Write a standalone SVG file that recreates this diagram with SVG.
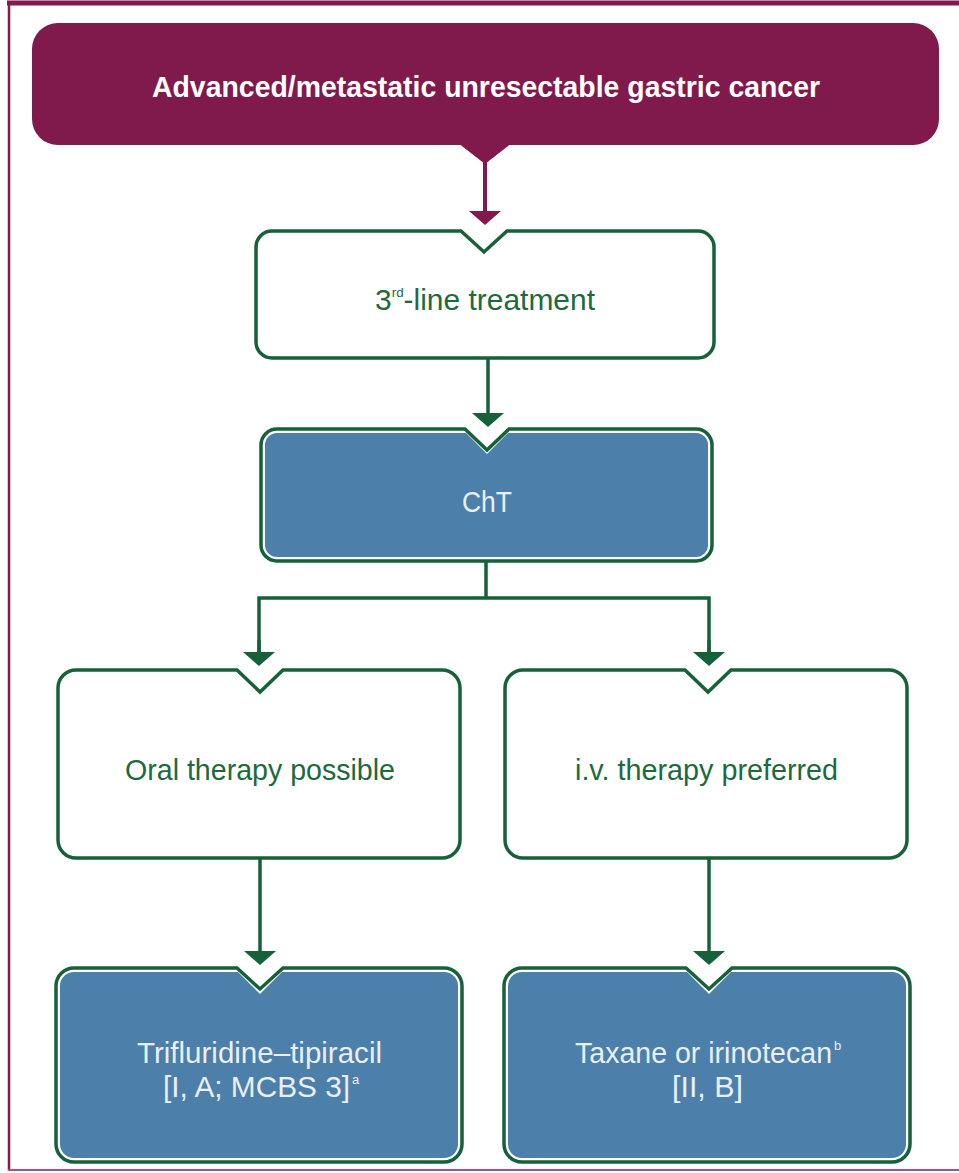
<svg xmlns="http://www.w3.org/2000/svg" width="959" height="1173" viewBox="0 0 959 1173">
<style>
.frame{stroke:#801a4c;fill:none}
.wbox{fill:#ffffff;stroke:#16603a;stroke-width:3.5}
.bbox-o{fill:#ffffff;stroke:#16603a;stroke-width:3.5}
.bbox-i{fill:#4d7fab}
.conn{stroke:#16603a;stroke-width:3.5;fill:none}
.pconn{stroke:#801a4c;stroke-width:4;fill:none}
.t{font-family:"Liberation Sans",Arial,sans-serif;font-size:29px}
.sup{font-family:"Liberation Sans",Arial,sans-serif;font-size:13px}
.tg{fill:#1d6a3e}
.tw{fill:#e9eff6}
.title{font-family:"Liberation Sans",Arial,sans-serif;font-size:29px;font-weight:bold;fill:#ffffff}
</style>
<defs>
<marker id="ag" viewBox="0 -16 14 32" markerUnits="userSpaceOnUse" markerWidth="14" markerHeight="32" refX="6" refY="0" orient="auto">
<path d="M0,-16 L14,0 L0,16 Z" fill="#16603a"/>
</marker>
<marker id="ap" viewBox="0 -16 14 32" markerUnits="userSpaceOnUse" markerWidth="14" markerHeight="32" refX="6" refY="0" orient="auto">
<path d="M0,-16 L14,0 L0,16 Z" fill="#801a4c"/>
</marker>
</defs>
<rect x="0" y="0" width="959" height="1173" fill="#ffffff"/>
<g id="frame">
<line class="frame" x1="9" y1="2" x2="9" y2="1171" stroke-width="2.5"/>
<line class="frame" x1="7" y1="3" x2="959" y2="3" stroke-width="5"/>
<line x1="8" y1="1170" x2="959" y2="1170" stroke="#b34d80" stroke-width="2"/>
</g>
<g id="connectors">
<line class="pconn" x1="485" y1="158" x2="485" y2="217" marker-end="url(#ap)"/>
<line class="conn" x1="488" y1="358" x2="488" y2="419" marker-end="url(#ag)"/>
<polyline class="conn" points="486,561 486,598"/>
<polyline class="conn" points="259,658 259,598 709,598 709,658" stroke-linejoin="miter"/>
<line class="conn" x1="259" y1="640" x2="259" y2="658" marker-end="url(#ag)"/>
<line class="conn" x1="709" y1="640" x2="709" y2="658" marker-end="url(#ag)"/>
<line class="conn" x1="260" y1="858" x2="260" y2="957" marker-end="url(#ag)"/>
<line class="conn" x1="709" y1="858" x2="709" y2="957" marker-end="url(#ag)"/>
</g>
<g id="node-start">
<rect x="32" y="23" width="907" height="122" rx="26" ry="26" fill="#801a4c"/>
<polygon points="458,143 512,143 485,164" fill="#801a4c"/>
<text class="title" x="152" y="97" textLength="668" lengthAdjust="spacingAndGlyphs">Advanced/metastatic unresectable gastric cancer</text>
</g>
<g id="node-3rd-line">
<path class="wbox" d="M272,231 H461 L484,252 L507,231 H698 A16,16 0 0 1 714,247 V342 A16,16 0 0 1 698,358 H272 A16,16 0 0 1 256,342 V247 A16,16 0 0 1 272,231 Z"/>
<text class="t tg" x="375" y="310" textLength="220" lengthAdjust="spacingAndGlyphs">3<tspan font-size="13" dy="-13">rd</tspan><tspan dy="13">-line treatment</tspan></text>
</g>
<g id="node-cht">
<path class="bbox-o" d="M277,429 H465 L487,450 L509,429 H696 A16,16 0 0 1 712,445 V545 A16,16 0 0 1 696,561 H277 A16,16 0 0 1 261,545 V445 A16,16 0 0 1 277,429 Z"/>
<path class="bbox-i" d="M277,433 H466 L487,454 L508,433 H696 A12,12 0 0 1 708,445 V545 A12,12 0 0 1 696,557 H277 A12,12 0 0 1 265,545 V445 A12,12 0 0 1 277,433 Z"/>
<text class="t tw" x="462" y="512" textLength="50" lengthAdjust="spacingAndGlyphs">ChT</text>
</g>
<g id="node-oral">
<path class="wbox" d="M76,670 H237 L260,692 L283,670 H442 A18,18 0 0 1 460,688 V840 A18,18 0 0 1 442,858 H76 A18,18 0 0 1 58,840 V688 A18,18 0 0 1 76,670 Z"/>
<text class="t tg" x="125" y="780" textLength="270" lengthAdjust="spacingAndGlyphs">Oral therapy possible</text>
</g>
<g id="node-iv">
<path class="wbox" d="M523,670 H685 L708,692 L731,670 H889 A18,18 0 0 1 907,688 V840 A18,18 0 0 1 889,858 H523 A18,18 0 0 1 505,840 V688 A18,18 0 0 1 523,670 Z"/>
<text class="t tg" x="575" y="780" textLength="263" lengthAdjust="spacingAndGlyphs">i.v. therapy preferred</text>
</g>
<g id="node-trifluridine">
<path class="bbox-o" d="M74,968 H237 L260,989 L283,968 H444 A18,18 0 0 1 462,986 V1144 A18,18 0 0 1 444,1162 H74 A18,18 0 0 1 56,1144 V986 A18,18 0 0 1 74,968 Z"/>
<path class="bbox-i" d="M74,972 H238 L260,994 L282,972 H444 A14,14 0 0 1 458,986 V1144 A14,14 0 0 1 444,1158 H74 A14,14 0 0 1 60,1144 V986 A14,14 0 0 1 74,972 Z"/>
<text class="t tw" x="137" y="1063" textLength="245" lengthAdjust="spacingAndGlyphs">Trifluridine–tipiracil</text>
<text class="t tw" x="163" y="1097" textLength="187" lengthAdjust="spacingAndGlyphs">[I, A; MCBS 3]</text>
<text class="sup tw" x="352" y="1084">a</text>
</g>
<g id="node-taxane">
<path class="bbox-o" d="M522,968 H686 L709,989 L732,968 H892 A18,18 0 0 1 910,986 V1144 A18,18 0 0 1 892,1162 H522 A18,18 0 0 1 504,1144 V986 A18,18 0 0 1 522,968 Z"/>
<path class="bbox-i" d="M522,972 H687 L709,994 L731,972 H892 A14,14 0 0 1 906,986 V1144 A14,14 0 0 1 892,1158 H522 A14,14 0 0 1 508,1144 V986 A14,14 0 0 1 522,972 Z"/>
<text class="t tw" x="575" y="1063" textLength="257" lengthAdjust="spacingAndGlyphs">Taxane or irinotecan</text>
<text class="sup tw" x="834" y="1050">b</text>
<text class="t tw" x="672" y="1097" textLength="71" lengthAdjust="spacingAndGlyphs">[II, B]</text>
</g>
</svg>
